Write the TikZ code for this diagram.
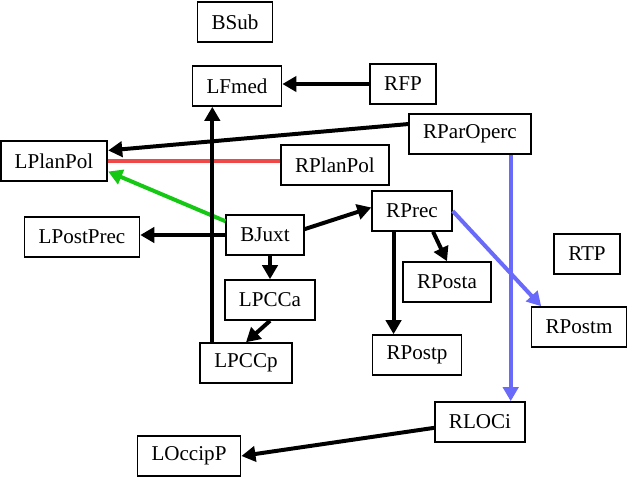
\documentclass[tikz,border=0pt]{standalone}
\usepackage{fontspec}
\setmainfont{Liberation Serif}
\usetikzlibrary{arrows.meta}
\definecolor{linkred}{RGB}{238,72,72}
\definecolor{linkgreen}{RGB}{20,200,20}
\definecolor{linkblue}{RGB}{105,105,250}
\tikzset{
	region/.style={draw, fill=white, line width=1.5pt, minimum height=34pt,
			inner xsep=12pt, inner ysep=0pt, font=\fontsize{18}{20}\selectfont},
	link/.style={line width=3.4pt, -{Triangle[length=12pt,width=13pt]}}
}

\begin{document}
\begin{tikzpicture}[x=0.3mm, y=-0.3mm]
        \useasboundingbox (0, 0) rectangle (630, 479);
        \node[region] (BSub) at (235, 22) {BSub};
        \node[region] (LFmed) at (237, 86) {LFmed};
        \node[region] (RFP) at (403, 84) {RFP};
        \node[region] (RParOperc) at (470, 134) {RParOperc};
        \node[region] (LPlanPol) at (54, 161) {LPlanPol};
        \node[region] (RPlanPol) at (335, 165) {RPlanPol};
        \node[region] (LPostPrec) at (82, 237) {LPostPrec};
        \node[region] (BJuxt) at (265, 235) {BJuxt};
        \node[region] (RPrec) at (412, 211) {RPrec};
        \node[region] (RTP) at (587, 254) {RTP};
        \node[region] (RPosta) at (447, 282) {RPosta};
        \node[region] (LPCCa) at (270, 300) {LPCCa};
        \node[region] (RPostm) at (579, 327) {RPostm};
        \node[region] (RPostp) at (417, 355) {RPostp};
        \node[region] (LPCCp) at (246, 363) {LPCCp};
        \node[region] (RLOCi) at (480, 422) {RLOCi};
        \node[region] (LOccipP) at (189, 456) {LOccipP};
        \coordinate (LPCCp_up) at ([xshift=11pt]LPCCp.north west);
        \coordinate (RParOperc_down) at ([xshift=-18pt]RParOperc.south east);
        \draw[link] (RFP.west) -- (RFP.west -| LFmed.east);
        \draw[link] ([yshift=8.5pt]RParOperc.west) -- ([yshift=9pt]LPlanPol.east);
        \draw[line width=3.4pt, linkred] (LPlanPol.east) -- (LPlanPol.east -| RPlanPol.west);
        \draw[link, linkgreen] ([yshift=-6pt]BJuxt.north west) -- ([yshift=-9pt]LPlanPol.east);
        \draw[link] (BJuxt.west) -- (BJuxt.west -| LPostPrec.east);
        \draw[link] ([yshift=5pt]BJuxt.east) -- ([yshift=3pt]RPrec.west);
        \draw[link] (BJuxt.south -| LPCCa.north) -- (LPCCa.north);
        \draw[link] (LPCCa.south) -- (LPCCp.north);
        \draw[link] (LPCCp_up) -- (LPCCp_up |- LFmed.south);
        \draw[link] ([xshift=18pt]RPrec.south) -- (RPosta.north);
        \draw[link] ([xshift=19pt]RPrec.south west) -- ([xshift=19pt]RPrec.south west |- RPostp.north);
        \draw[link, linkblue] (RPrec.east) -- ([xshift=9pt]RPostm.north west);
        \draw[link, linkblue] (RParOperc_down) -- (RParOperc_down |- RLOCi.north);
        \draw[link] ([yshift=-5pt]RLOCi.west) -- (LOccipP.east);
    \end{tikzpicture}
\end{document}
